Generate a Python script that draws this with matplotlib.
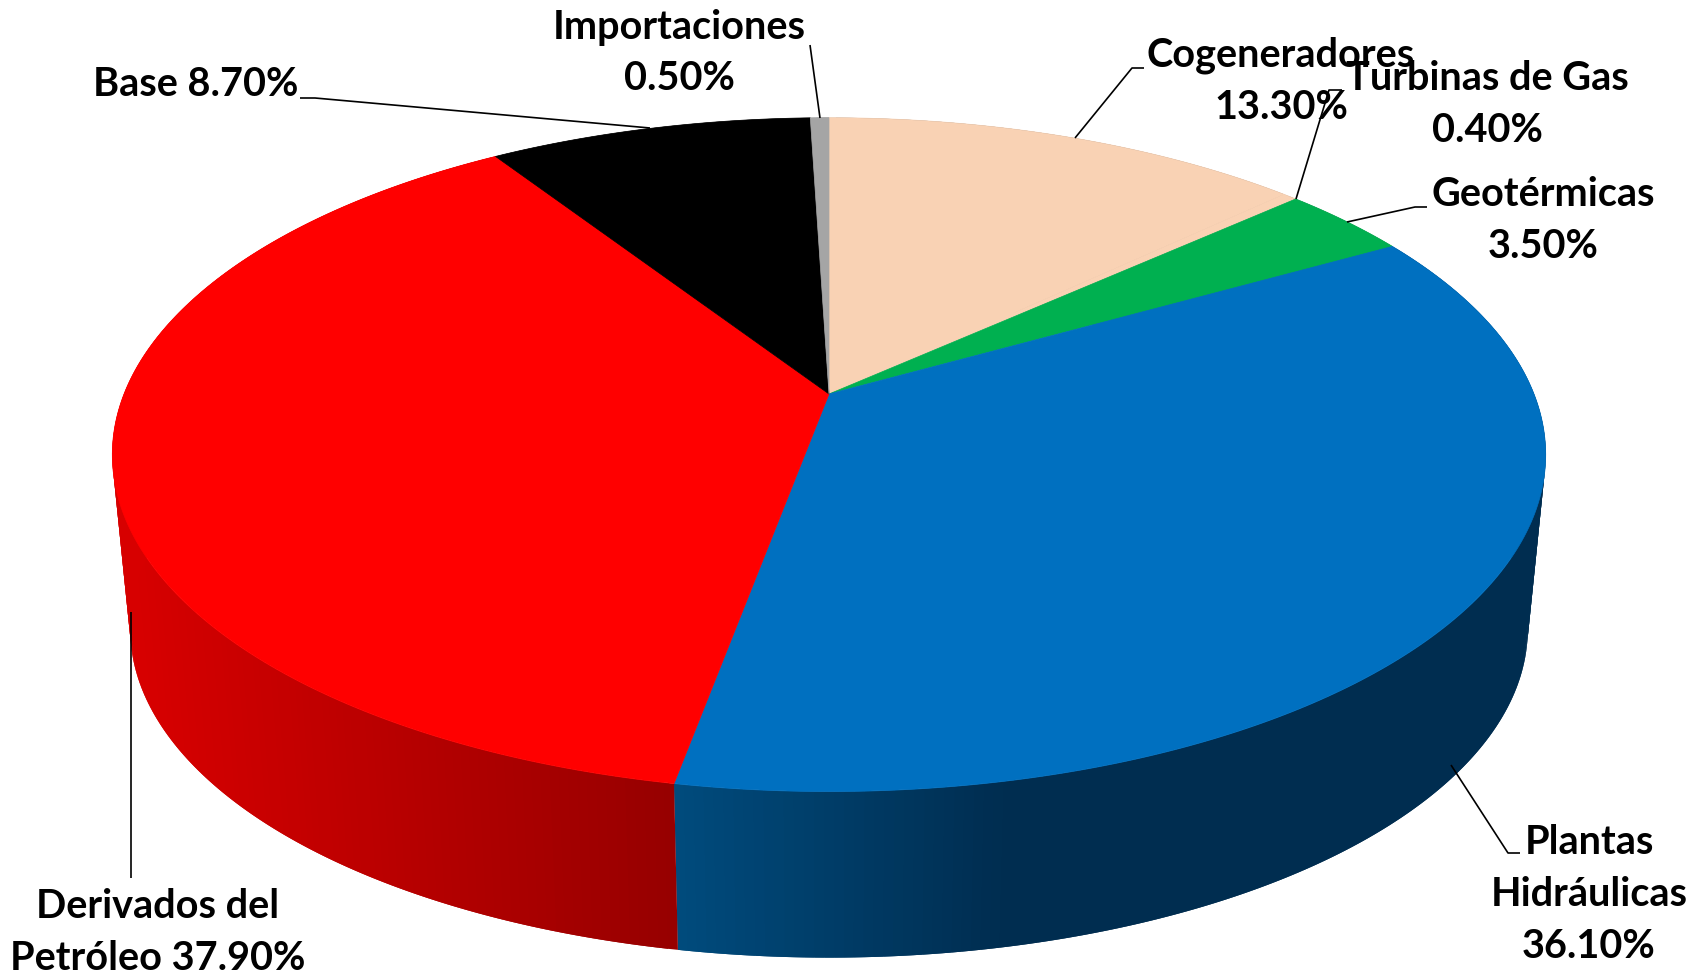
import matplotlib
matplotlib.use("Agg")
import matplotlib.pyplot as plt
import numpy as np
from matplotlib.collections import PolyCollection

names = ["Cogeneradores", "Turbinas de Gas", "Geotérmicas", "Plantas Hidráulicas",
         "Derivados del Petróleo", "Base", "Importaciones"]
values = [13.3, 0.4, 3.5, 36.1, 37.9, 8.7, 0.5]
labels = ["Cogeneradores\n13.30%", "Turbinas de Gas\n0.40%", "Geotérmicas\n3.50%",
          "Plantas\nHidráulicas\n36.10%", "Derivados del\nPetróleo 37.90%",
          "Base 8.70%", "Importaciones\n0.50%"]
colors = ["#F9D2B4", "#F9D2B4", "#00B050", "#0070C0", "#FF0000", "#000000", "#A5A5A5"]

plt.rcParams['font.family'] = ['Lato', 'DejaVu Sans']

# perspective of the pie, in picture pixels
cx, cy = 829, 394
A, B, k = 705, 326, 0.18
shrink, depth = 0.975, 176


def top_edge(deg):
    # small correction so slice edges sit where they do in the picture
    t = np.radians(deg - np.interp(deg, [0, 50, 190, 325], [0, 1.25, 0.7, 0]))
    X, Y = np.sin(t), np.cos(t)
    den = 1 + k * Y
    return A * X / den, B * Y / den


def top_pts(deg):
    x, y = top_edge(deg)
    return cx + x, cy - y


def bottom_pts(deg):
    x, y = top_edge(deg)
    return cx + shrink * x, cy - shrink * y + depth


def side_color(i, x):
    if i == 3:  # blue side goes dark up to about the middle, then flat
        f = np.clip((x - 675) / 330, 0, 1)
        return (0, (75 - 30 * f) / 255, (125 - 45 * f) / 255)
    if i == 4:
        f = np.clip((x - 131) / (675 - 131), 0, 1)
        return ((215 - 65 * f) / 255, 0, 0)
    return (0.5, 0.5, 0.5)


fig = plt.figure(figsize=(17.06, 9.73), dpi=100)
ax = fig.add_axes([0, 0, 1, 1])
ax.set_xlim(0, 1706)
ax.set_ylim(973, 0)
ax.axis("off")

# labels add up to 100.4, so take shares of the total like a pie does
edges = np.concatenate([[0], np.cumsum(values)]) / sum(values) * 360

# side wall, thin strips overlapping so no seams show
for i in range(len(values)):
    ang = np.linspace(edges[i], edges[i + 1], max(4, int((edges[i + 1] - edges[i]) * 1.5)))
    xt, yt = top_pts(ang)
    xb, yb = bottom_pts(ang)
    quads = []
    cols = []
    for j in range(len(ang) - 1):
        e = min(j + 2, len(ang) - 1)
        quads.append(list(zip(xt[j:e + 1], yt[j:e + 1])) + list(zip(xb[j:e + 1][::-1], yb[j:e + 1][::-1])))
        cols.append(side_color(i, (xt[j] + xt[j + 1]) / 2))
    ax.add_collection(PolyCollection(quads, facecolors=cols, edgecolors="none", linewidths=0, zorder=2))

# top face
for i in range(len(values)):
    ang = np.linspace(edges[i], edges[i + 1], 200)
    xt, yt = top_pts(ang)
    ax.fill(np.r_[cx, xt], np.r_[cy, yt], facecolor=colors[i], edgecolor=colors[i], lw=0.5, zorder=3)

# leader lines
leaders = [
    ([1144, 1132, 1075], [68, 68, 138]),
    ([1342, 1329, 1296], [90, 90, 199]),
    ([1427, 1415, 1347], [207, 207, 222]),
    ([1520, 1508, 1451], [853, 853, 765]),
    ([131, 131], [878, 612]),
    ([300, 315, 650], [98, 98, 128]),
    ([810, 820], [45, 118]),
]
for lx, ly in leaders:
    ax.plot(lx, ly, color="black", lw=1.2, zorder=4, solid_capstyle="butt")

label_pos = [(1281, 81), (1487, 104), (1543, 221), (1589, 894), (158, 933), (196, 84), (679, 53)]
for lab, (tx, ty) in zip(labels, label_pos):
    ax.text(tx, ty, lab, ha="center", va="center", fontsize=28.5, fontweight="bold",
            color="black", linespacing=1.5, zorder=5)

fig.savefig("out.png", dpi=100)
